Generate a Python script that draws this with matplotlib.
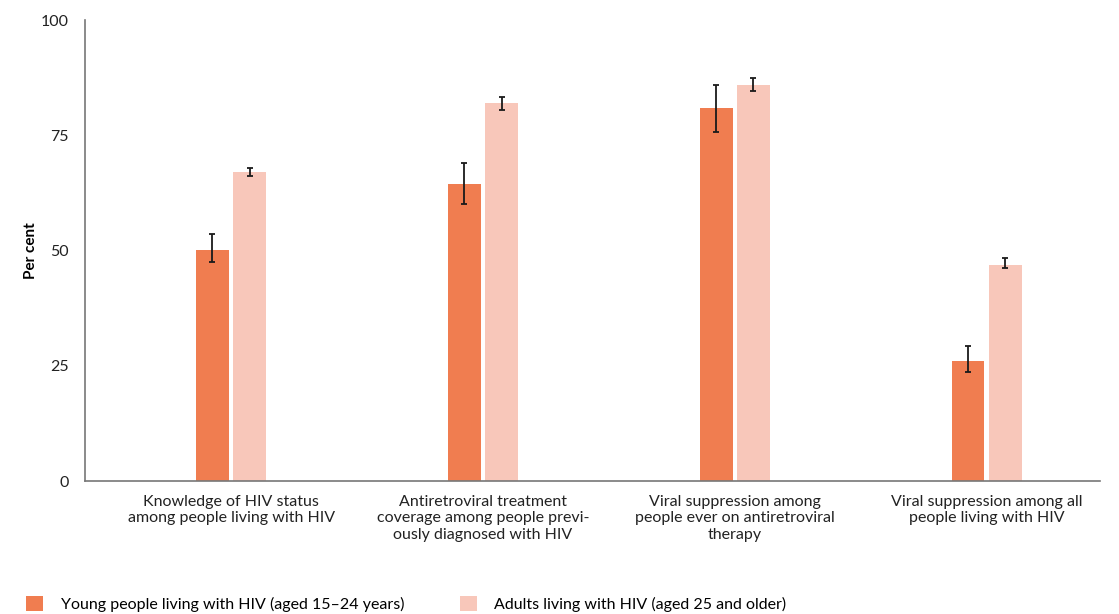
import numpy as np
import matplotlib.pyplot as plt

plt.rcParams["font.family"] = ["Lato", "DejaVu Sans"]

# Data
categories = [
    "Knowledge of HIV status\namong people living with HIV",
    "Antiretroviral treatment\ncoverage among people previ-\nously diagnosed with HIV",
    "Viral suppression among\npeople ever on antiretroviral\ntherapy",
    "Viral suppression among all\npeople living with HIV",
]
young = [50.1, 64.4, 80.9, 26.0]
young_low = [47.5, 60.1, 75.7, 23.6]
young_high = [53.6, 69.0, 85.9, 29.3]
adults = [67.0, 82.0, 85.9, 46.9]
adults_low = [66.2, 80.5, 84.6, 46.2]
adults_high = [67.9, 83.3, 87.4, 48.4]
labels = ["Young people living with HIV (aged 15\u201324 years)",
          "Adults living with HIV (aged 25 and older)"]
yticks = [0, 25, 50, 75, 100]

col_young = "#F07D50"
col_adult = "#F8C7BA"

fig = plt.figure(figsize=(11.19, 6.14), dpi=100)
ax = fig.add_axes([0.076, 0.2166, 0.907, 0.7508])

x = np.arange(len(categories))
w = 0.13
off = 0.074

y_err = [np.array(young) - np.array(young_low), np.array(young_high) - np.array(young)]
a_err = [np.array(adults) - np.array(adults_low), np.array(adults_high) - np.array(adults)]

b1 = ax.bar(x - off, young, w, color=col_young, label=labels[0])
b2 = ax.bar(x + off, adults, w, color=col_adult, label=labels[1])
ax.errorbar(x - off, young, yerr=y_err, fmt="none", ecolor="#1a1a1a",
            elinewidth=1.3, capsize=2.5, capthick=1.3)
ax.errorbar(x + off, adults, yerr=a_err, fmt="none", ecolor="#1a1a1a",
            elinewidth=1.3, capsize=2.5, capthick=1.3)

ax.set_xlim(-0.58, 3.45)
ax.set_ylim(0, 100)
ax.set_yticks(yticks)
ax.set_xticks(x)
ax.set_xticklabels(categories, fontsize=11.5, color="#222222", linespacing=1.22)
ax.tick_params(axis="both", length=0, labelsize=11.5, colors="#222222")
ax.tick_params(axis="y", pad=12)
ax.tick_params(axis="x", pad=10)

for s in ["top", "right"]:
    ax.spines[s].set_visible(False)
for s in ["left", "bottom"]:
    ax.spines[s].set_color("#777777")
    ax.spines[s].set_linewidth(1.2)

ax.set_ylabel("Per cent", fontsize=11, fontweight="bold", labelpad=2)

fig.legend(handles=[b1, b2], loc="lower left", bbox_to_anchor=(0.015, -0.012),
           ncol=2, frameon=False, fontsize=11.5, borderpad=0.1,
           handlelength=1.05, handleheight=1.1, handletextpad=1.1,
           columnspacing=3.5)

fig.savefig("out.png", dpi=100)
